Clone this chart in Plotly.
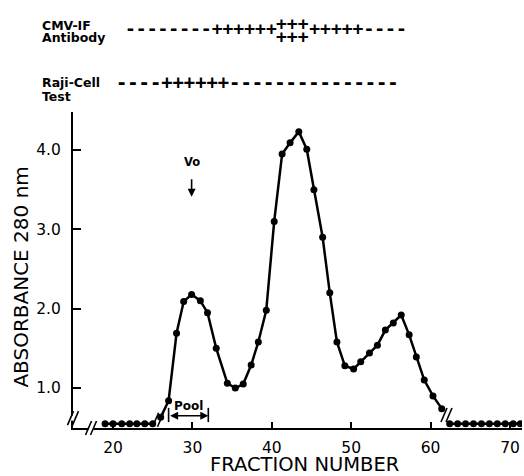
import plotly.graph_objects as go

# ---- data ----
left_frac = [19.0, 20.0, 21.1, 22.1, 23.0, 24.0, 25.0]
left_abs = [0.55] * 7

main_frac = [26.0, 27.0, 28.0, 28.9, 29.9, 31.0, 31.9, 33.0, 34.4, 35.4, 36.4, 37.4,
             38.3, 39.3, 40.3, 41.3, 42.3, 43.4, 44.4, 45.3, 46.4, 47.3, 48.2, 49.2,
             50.3, 51.2, 52.3, 53.3, 54.3, 55.3, 56.3, 57.3, 58.2, 59.2, 60.3, 61.4]
main_abs = [0.63, 0.84, 1.69, 2.09, 2.18, 2.10, 1.95, 1.50, 1.06, 1.00, 1.05, 1.29,
            1.58, 1.98, 3.10, 3.95, 4.09, 4.23, 4.01, 3.50, 2.90, 2.20, 1.58, 1.28,
            1.24, 1.33, 1.44, 1.54, 1.73, 1.82, 1.92, 1.67, 1.39, 1.10, 0.90, 0.74]

right_frac = [62.4, 63.4, 64.4, 65.4, 66.4, 67.4, 68.4, 69.4, 70.4, 71.3]
right_abs = [0.55] * 10

x_ticks = [20, 30, 40, 50, 60, 70]
y_ticks = [1.0, 2.0, 3.0, 4.0]
y_tick_labels = ["1.0", "2.0", "3.0", "4.0"]

cmv_row = "--------" + "++++++" + "   " + "+" + "++++" + "----"
cmv_stack_top = "+++"
cmv_stack_bottom = "+++"
raji_row = "----" + "++++++" + "---------------"

pool_start, pool_end = 27, 32
vo_frac = 29.9

# ---- figure ----
fig = go.Figure()
style = dict(mode="lines+markers", line=dict(color="black", width=2.5),
             marker=dict(color="black", size=7), showlegend=False, hoverinfo="skip")
for xs, ys in [(left_frac, left_abs), (main_frac, main_abs), (right_frac, right_abs)]:
    fig.add_trace(go.Scatter(x=xs, y=ys, **style))

AX_FONT = dict(family="DejaVu Sans", size=15.5, color="black")
fig.update_layout(
    width=524, height=476,
    margin=dict(l=73, r=2, t=112, b=48, autoexpand=False),
    plot_bgcolor="white", paper_bgcolor="white",
    xaxis=dict(range=[14.96, 71.51], tickvals=x_ticks, ticks="inside", ticklen=6,
               tickwidth=2, tickcolor="black", showline=True, linecolor="black",
               linewidth=2, showgrid=False, zeroline=False, tickfont=AX_FONT,
               ticklabelstandoff=4, automargin=False),
    yaxis=dict(range=[0.496, 4.479], tickvals=y_ticks, ticktext=y_tick_labels,
               ticks="inside", ticklen=8, tickwidth=2, tickcolor="black",
               showline=True, linecolor="black", linewidth=2, showgrid=False,
               zeroline=False, tickfont=AX_FONT, ticklabelstandoff=7, automargin=False),
)

ann = []
C = dict(xanchor="center", yanchor="middle", showarrow=False)
# axis titles
ann.append(dict(text="FRACTION NUMBER", xref="paper", yref="paper", x=0.5167, y=-0.114,
                font=dict(family="DejaVu Sans", size=19.5, color="black"), **C))
ann.append(dict(text="ABSORBANCE 280 nm", xref="paper", yref="paper", x=-0.1158, y=0.476,
                textangle=-90, font=dict(family="DejaVu Sans", size=20, color="black"), **C))
# top labels
LB = dict(family="DejaVu Sans", size=12.5, color="black", weight="bold")
for t, yy in [("CMV-IF", 1.2729), ("Antibody", 1.2342), ("Raji-Cell", 1.0918), ("Test", 1.0506)]:
    ann.append(dict(text=t, xref="paper", yref="paper", x=-0.0735, y=yy, xanchor="left",
                    yanchor="middle", showarrow=False, font=LB))
MONO = dict(family="DejaVu Sans Mono", color="black", weight="bold")
ann.append(dict(text=cmv_row.replace(" ", "&nbsp;"), xref="paper", yref="paper", x=0.4298,
                y=1.2658, font=dict(size=18, **MONO), **C))
ann.append(dict(text=cmv_stack_top, xref="paper", yref="paper", x=0.4890, y=1.2815,
                font=dict(size=18, **MONO), **C))
ann.append(dict(text=cmv_stack_bottom, xref="paper", yref="paper", x=0.4890, y=1.2405,
                font=dict(size=18, **MONO), **C))
ann.append(dict(text=raji_row, xref="paper", yref="paper", x=0.4109, y=1.0918,
                font=dict(size=18.8, **MONO), **C))
# Vo
ann.append(dict(text="Vo", x=vo_frac, y=3.85, xref="x", yref="y",
                font=dict(family="DejaVu Sans", size=11.5, color="black", weight="bold"), **C))
ann.append(dict(text="", x=vo_frac, y=3.41, xref="x", yref="y", ax=0, ay=-19,
                showarrow=True, arrowhead=2, arrowsize=1, arrowwidth=1.6, arrowcolor="black"))
# Pool
ann.append(dict(text="Pool", x=(pool_start + pool_end) / 2 - 0.05, y=0.77, xref="x", yref="y",
                font=dict(family="DejaVu Sans", size=12, color="black", weight="bold"), **C))
ann.append(dict(text="", x=pool_end, y=0.65, ax=pool_start, ay=0.65, xref="x", yref="y",
                axref="x", ayref="y", showarrow=True, arrowhead=2, arrowside="end+start",
                arrowsize=1, arrowwidth=1.6, arrowcolor="black", standoff=0, startstandoff=0))
fig.update_layout(annotations=ann)

shapes = []
for xv in [pool_start, pool_end]:
    shapes.append(dict(type="line", xref="x", yref="y", x0=xv, x1=xv, y0=0.57, y1=0.75,
                       line=dict(color="black", width=1.6)))


def brk(xref, xa, yref, ya, gap_axis=None):
    out = []
    if gap_axis == "x":
        out.append(dict(type="rect", xref=xref, yref=yref, xsizemode="pixel", ysizemode="pixel",
                        xanchor=xa, yanchor=ya, x0=-2.5, x1=2.5, y0=-3, y1=3,
                        fillcolor="white", line=dict(width=0), layer="above"))
    if gap_axis == "y":
        out.append(dict(type="rect", xref=xref, yref=yref, xsizemode="pixel", ysizemode="pixel",
                        xanchor=xa, yanchor=ya, x0=-3, x1=3, y0=-2.5, y1=2.5,
                        fillcolor="white", line=dict(width=0), layer="above"))
    for dx in (-2.5, 2.5):
        out.append(dict(type="line", xref=xref, yref=yref, xsizemode="pixel", ysizemode="pixel",
                        xanchor=xa, yanchor=ya, x0=dx - 3, x1=dx + 3, y0=-7, y1=7,
                        line=dict(color="black", width=1.6), layer="above"))
    return out


shapes += brk("x", 17.23, "paper", 0, gap_axis="x")
shapes += brk("paper", 0, "y", 0.62, gap_axis="y")
shapes += brk("x", 25.67, "y", 0.60)
shapes += brk("x", 62.0, "y", 0.66)
fig.update_layout(shapes=shapes)

fig.write_html("out.html", config={"displayModeBar": False},
               post_script="document.body.style.margin='0px';document.body.style.padding='0px';")
